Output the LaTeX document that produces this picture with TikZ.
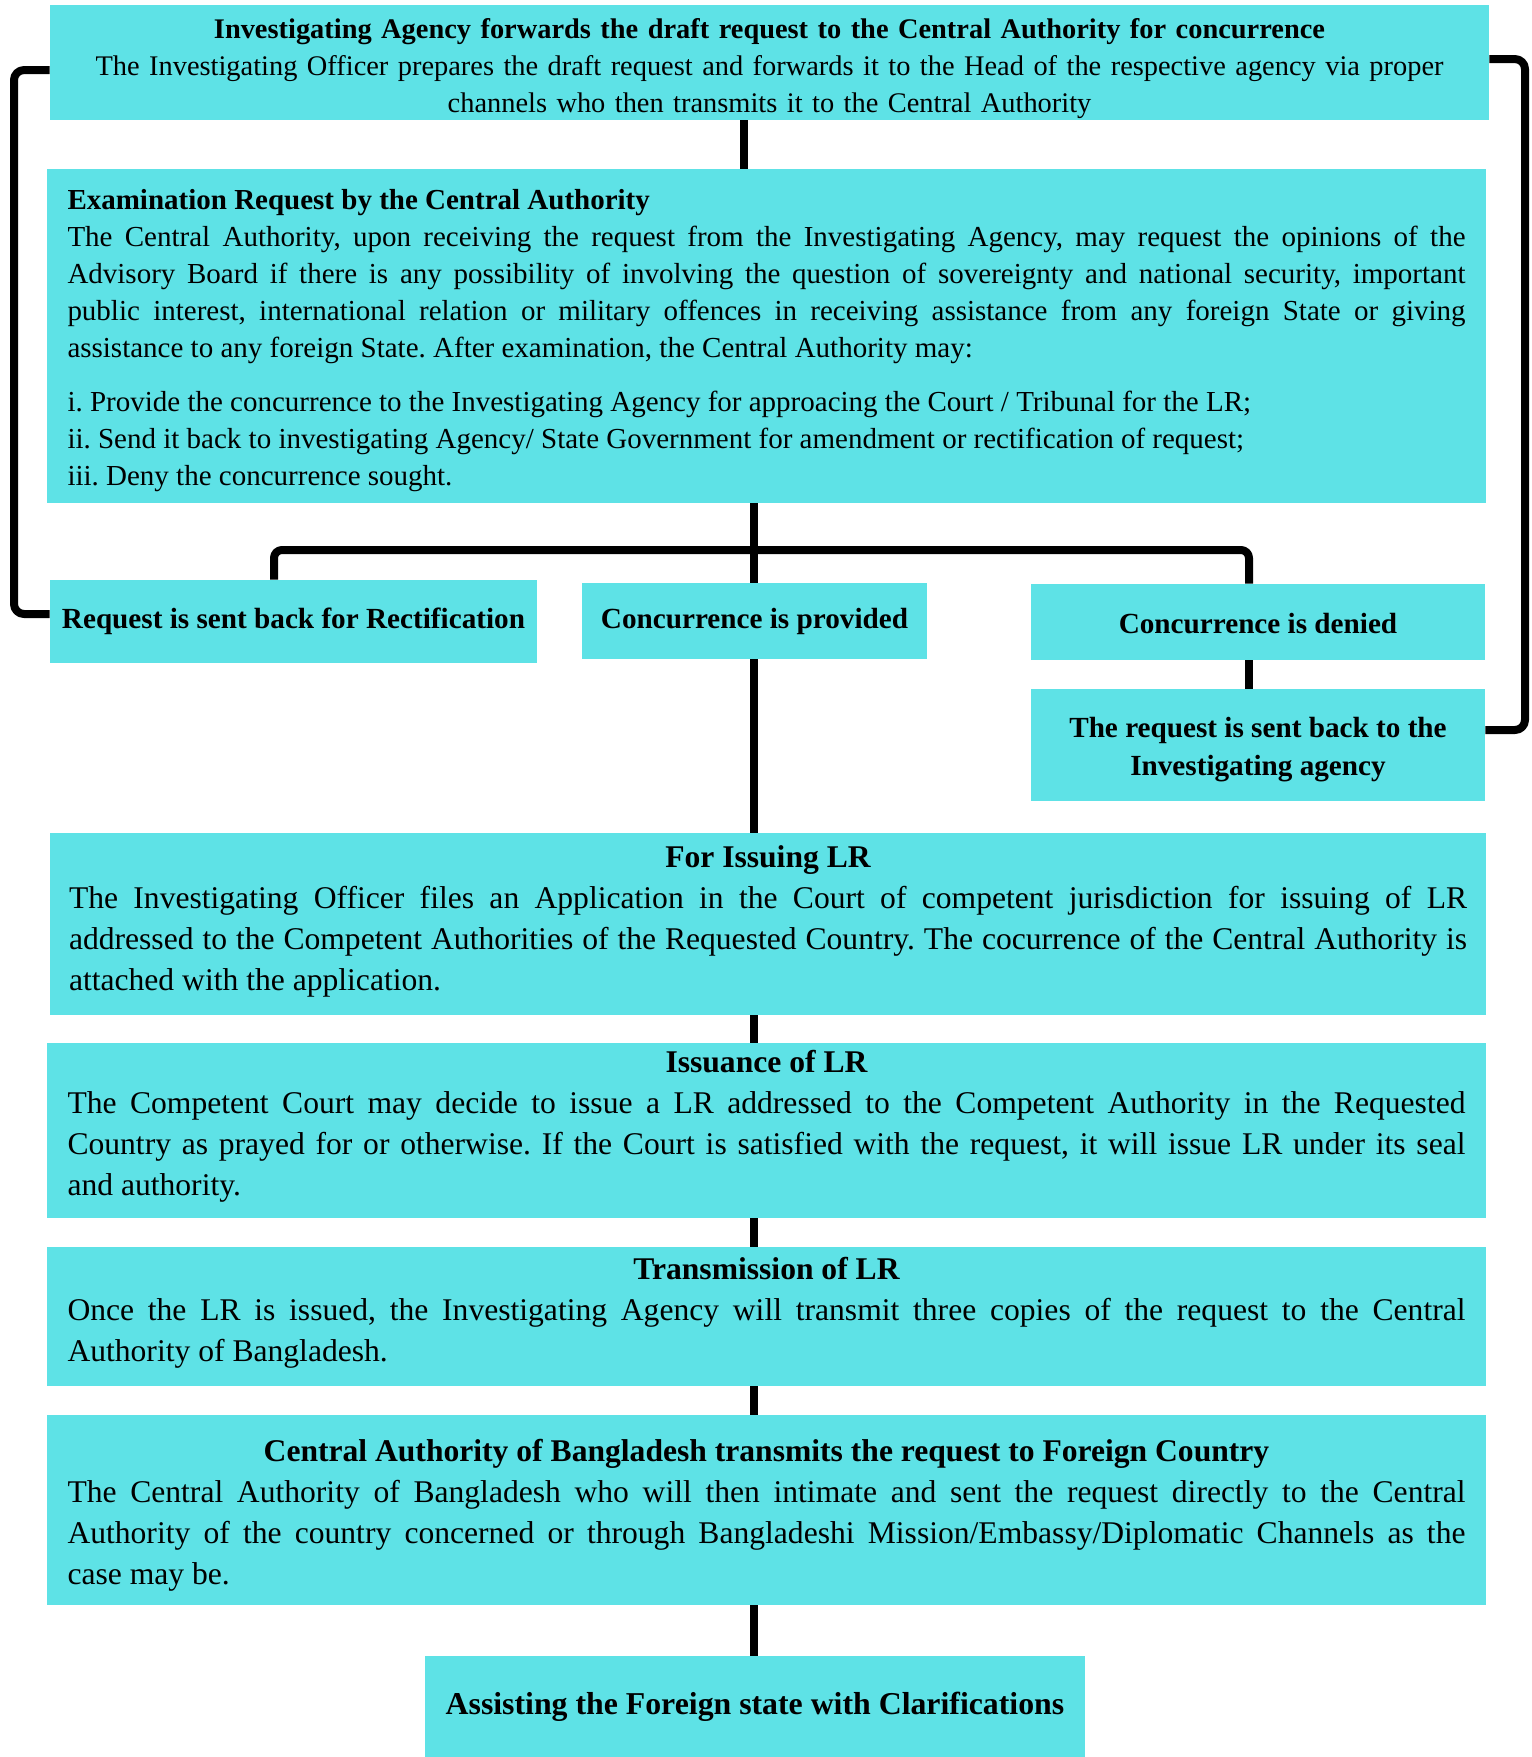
\documentclass[tikz,border=0pt]{standalone}
\usepackage{fontspec}
\setmainfont{Liberation Serif}
\usepackage{tikz}
\usetikzlibrary{calc}

\definecolor{boxcyan}{HTML}{5EE2E6}
\setlength{\parindent}{0pt}
\hyphenpenalty=10000
\exhyphenpenalty=10000
\frenchspacing

\begin{document}
\begin{tikzpicture}[
  x=0.5pt, y=-0.5pt,
  box/.style={rectangle, fill=boxcyan, inner sep=0pt, align=center, font={\fontsize{14.2}{18.5}\selectfont}},
  tagbox/.style={box, font={\fontsize{14.6}{19}\selectfont\bfseries}},
  textbox/.style={box, align=justify, text width=699pt, minimum width=719.5pt, font={\fontsize{14.5}{18.5}\selectfont}},
  bigbox/.style={textbox, font={\fontsize{15.8}{20.5}\selectfont}},
  link/.style={line width=4pt, line join=round},
]
  \useasboundingbox (0,0) rectangle (1532,1757);

  % Nodes
  \node[box, minimum width=719.5pt, minimum height=57.75pt, text width=705pt] (agency) at (769.5,62.25)
    {{\bfseries\rule{0pt}{16.5pt}Investigating Agency forwards the draft request to the Central Authority for concurrence}\\
     The Investigating Officer prepares the draft request and forwards it to the Head of the respective agency via proper\\
     channels who then transmits it to the Central Authority};
  \node[textbox, minimum height=167pt] (exam) at (766.5,336)
    {{\bfseries\rule{0pt}{15pt}Examination Request by the Central Authority\par}
     The Central Authority, upon receiving the request from the Investigating Agency, may request the opinions of the\linebreak
     Advisory Board if there is any possibility of involving the question of sovereignty and national security, important\linebreak
     public interest, international relation or military offences in receiving assistance from any foreign State or giving\linebreak
     assistance to any foreign State. After examination, the Central Authority may:\par
     \vskip 8.5pt
     {\raggedright i. Provide the concurrence to the Investigating Agency for approacing the Court / Tribunal for the LR;\par
      ii. Send it back to investigating Agency/ State Government for amendment or rectification of request;\par
      iii. Deny the concurrence sought.\par}};
  \node[tagbox, minimum width=243.5pt, minimum height=41.5pt] (rectify) at (293.5,621.5) {Request is sent back for Rectification};
  \node[tagbox, minimum width=172.5pt, minimum height=38pt] (provided) at (754.5,621) {Concurrence is provided};
  \node[tagbox, minimum width=227pt, minimum height=38pt] (denied) at (1258,622) {\rule{0pt}{11.5pt}Concurrence is denied};
  \node[tagbox, minimum width=227pt, minimum height=56pt] (sentback) at (1258,745)
    {\rule{0pt}{14.5pt}The request is sent back to the\\Investigating agency};
  \node[bigbox, minimum height=91pt, minimum width=718pt] (issuing) at (768,924)
    {{\centering\bfseries For Issuing LR\par}
     The Investigating Officer files an Application in the Court of competent jurisdiction for issuing of LR\linebreak
     addressed to the Competent Authorities of the Requested Country. The cocurrence of the Central Authority is\linebreak
     attached with the application.\rule[-5.6pt]{0pt}{0pt}};
  \node[bigbox, minimum height=87.5pt] (issuance) at (766.5,1130.5)
    {{\centering\bfseries Issuance of LR\par}
     The Competent Court may decide to issue a LR addressed to the Competent Authority in the Requested\linebreak
     Country as prayed for or otherwise. If the Court is satisfied with the request, it will issue LR under its seal\linebreak
     and authority.\rule[-7.3pt]{0pt}{0pt}};
  \node[bigbox, minimum height=69.5pt] (transmit) at (766.5,1316.5)
    {{\centering\bfseries Transmission of LR\par}
     Once the LR is issued, the Investigating Agency will transmit three copies of the request to the Central\linebreak
     Authority of Bangladesh.\rule[-6.8pt]{0pt}{0pt}};
  \node[bigbox, minimum height=95pt] (forward) at (766.5,1510)
    {{\centering\bfseries\rule{0pt}{16.5pt}Central Authority of Bangladesh transmits the request to Foreign Country\par}
     The Central Authority of Bangladesh who will then intimate and sent the request directly to the Central\linebreak
     Authority of the country concerned or through Bangladeshi Mission/Embassy/Diplomatic Channels as the\linebreak
     case may be.};
  \node[tagbox, font={\fontsize{15.9}{20}\selectfont\bfseries}, minimum width=330pt, minimum height=50.5pt] (assist) at (755,1706.5)
    {Assisting the Foreign state with Clarifications};

  % Connectors
  \coordinate (topline) at (744,0);
  \coordinate (spine) at (754,0);
  \coordinate (barL) at (274,550);
  \coordinate (barR) at (1249,550);
  \coordinate (loopL) at (14,614);
  \coordinate (loopR) at (1525,730);
  \draw[link] (agency.south -| topline) -- (exam.north -| topline);
  \draw[link] (exam.south -| spine) -- (provided.north -| spine);
  \draw[link, rounded corners=4pt] (rectify.north -| barL) -- (barL) -- (barR) -- (denied.north -| barR);
  \draw[link] (denied.south -| barR) -- (sentback.north -| barR);
  \draw[link] (provided.south -| spine) -- (issuing.north -| spine);
  \draw[link] (issuing.south -| spine) -- (issuance.north -| spine);
  \draw[link] (issuance.south -| spine) -- (transmit.north -| spine);
  \draw[link] (transmit.south -| spine) -- (forward.north -| spine);
  \draw[link] (forward.south -| spine) -- (assist.north -| spine);

  % Loops back to the agency
  \draw[link, rounded corners=5pt] ([yshift=-3.9pt]agency.west) -| (loopL) -- (loopL -| rectify.west);
  \draw[link, rounded corners=5pt] ([yshift=1.6pt]agency.east) -| (loopR) -- (loopR -| sentback.east);
\end{tikzpicture}
\end{document}
